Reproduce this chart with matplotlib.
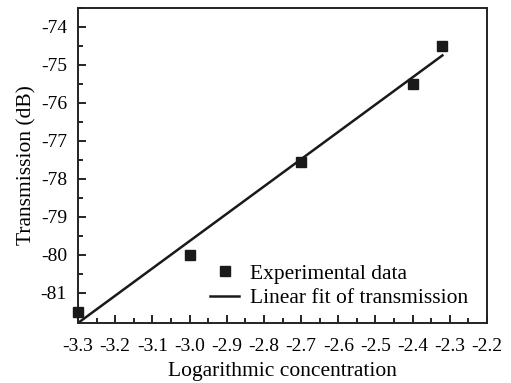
import numpy as np
import matplotlib
matplotlib.use("Agg")
import matplotlib.pyplot as plt
from matplotlib.ticker import MultipleLocator

# datos
log_conc = [-3.3, -3.0, -2.7, -2.4, -2.32]
transmision = [-81.5, -80.02, -77.55, -75.5, -74.5]

# extremos de la recta de ajuste
ajuste_x = [-3.3, -2.32]
ajuste_y = [-81.8, -74.75]

xticks = np.round(np.arange(-3.3, -2.15, 0.1), 1)
yticks = [-81, -80, -79, -78, -77, -76, -75, -74]

plt.rcParams['font.family'] = ['Liberation Serif', 'DejaVu Serif']
plt.rcParams['font.size'] = 14

fig = plt.figure(figsize=(5.11, 3.83), dpi=100)
ax = fig.add_axes([78 / 511, 1 - 323 / 383, 409 / 511, 315 / 383])

ax.plot(log_conc, transmision, 's', color='#1a1a1a', markersize=6.5,
        label='Experimental data', clip_on=False, zorder=3)
ax.plot(ajuste_x, ajuste_y, '-', color='#1a1a1a', lw=1.8,
        label='Linear fit of transmission')

ax.set_xlim(-3.3, -2.2)
ax.set_ylim(-81.8, -73.5)
ax.set_xticks(xticks)
ax.set_xticklabels([f"{v:.1f}" for v in xticks])
ax.set_yticks(yticks)
ax.set_yticklabels([str(v) for v in yticks])
ax.xaxis.set_minor_locator(MultipleLocator(0.05))
ax.yaxis.set_minor_locator(MultipleLocator(0.5))
ax.tick_params(which='major', direction='in', length=6, width=1.2)
ax.tick_params(which='minor', direction='in', length=3.5, width=1.2)
ax.tick_params(axis='x', which='major', pad=10.5)
ax.tick_params(axis='y', which='major', pad=8)
for s in ax.spines.values():
    s.set_linewidth(1.4)
    s.set_color('#222222')

ax.set_xlabel('Logarithmic concentration', fontsize=15.5, labelpad=5.5)
ax.set_ylabel('Transmission (dB)', fontsize=15.5, labelpad=3)

ax.legend(loc='lower right', bbox_to_anchor=(0.975, 0.02), frameon=False,
          borderaxespad=0, handlelength=1.35, handletextpad=0.5,
          labelspacing=0.2, fontsize=15.5)

fig.savefig('out.png', dpi=100)
